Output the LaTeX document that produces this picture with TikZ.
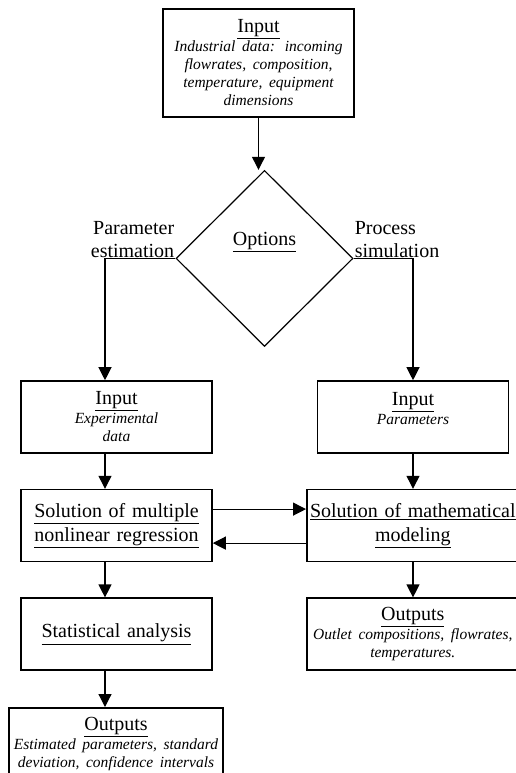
\documentclass[tikz,border=0pt]{standalone}
\usepackage{fontspec}
\setmainfont{Liberation Serif}
\usetikzlibrary{arrows.meta,positioning,shapes.geometric}
\newcommand{\desc}[1]{\par\vspace{1pt}{\fontsize{15.5}{18}\selectfont\itshape #1\par}}
\tikzset{
    %Define standard arrow tip
    >={Triangle[length=13pt,width=13pt]},
    %Define style for boxes
    stepbox/.style={
           rectangle,
           draw=black, line width=1.6pt,
           text width=185pt,
           inner xsep=3pt, inner ysep=2pt,
           minimum height=72pt,
           font=\fontsize{20}{24}\selectfont,
           align=center},
    widebox/.style={
           stepbox,
           text width=206pt},
    choice/.style={
           diamond,
           draw=black, line width=1.2pt,
           minimum width=177pt,
           minimum height=176pt,
           inner sep=0pt},
    side/.style={
           font=\fontsize{20}{23}\selectfont,
           inner sep=1pt},
    % Define arrow style
    link/.style={
           ->,
           line width=1.2pt}
}
\begin{document}
\begin{tikzpicture}[x=1pt,y=-1pt]
\useasboundingbox (0,0) rectangle (515,773);
\coordinate (lcol) at (105,0);
\coordinate (rcol) at (306,0);
\node[stepbox, minimum height=108pt](top) at (258.5,63){\underline{Input}\desc{Industrial data: incoming\\ flowrates, composition,\\ temperature, equipment\\ dimensions}};
\node[choice, below=52pt of top, xshift=6pt, label={[side,yshift=16pt]center:\underline{Options}}](opt){};
\node[side, anchor=south east, align=right](pe) at (opt.west){Parameter\\estimation};
\node[side, anchor=south west, align=left](ps) at (opt.east){Process\\simulation};
\node[stepbox](lin) at (116.5,417){\underline{Input}\desc{Experimental\\ data}};
\node[stepbox, below=35pt of lin](lsol){\underline{Solution of multiple}\\ \underline{nonlinear regression}};
\node[stepbox, below=35pt of lsol](stat){\underline{Statistical analysis}};
\node[widebox, text width=208pt, below=36pt of stat, xshift=-0.5pt](lout){\underline{Outputs}\desc{Estimated parameters, standard\\ deviation, confidence intervals}};
\node[stepbox](rin) at (413,417){\underline{Input}\desc{Parameters\\ \mbox{}}};
\node[widebox, anchor=west](rsol) at (lsol.center -| rcol){\underline{Solution of mathematical}\\ \underline{modeling}};
\node[widebox, below=35pt of rsol](rout){\underline{Outputs}\desc{Outlet compositions, flowrates,\\ temperatures.}};
\path[link]
	(top.south) edge (top.south |- opt.north)
	(lcol |- lin.south) edge (lcol |- lsol.north)
	(lcol |- lsol.south) edge (lcol |- stat.north)
	(lcol |- stat.south) edge (lcol |- lout.north)
	(rin) edge (rin |- rsol.north)
	(rin |- rsol.south) edge (rin |- rout.north)
	([yshift=16.5pt]lsol.east) edge ([yshift=16.5pt]rsol.west)
	([yshift=-17.5pt]rsol.west) edge ([yshift=-17.5pt]lsol.east);
\draw[link] (opt.west) -| (lcol |- lin.north);
\draw[link] (opt.east) -| (rin.north);
\end{tikzpicture}
\end{document}
